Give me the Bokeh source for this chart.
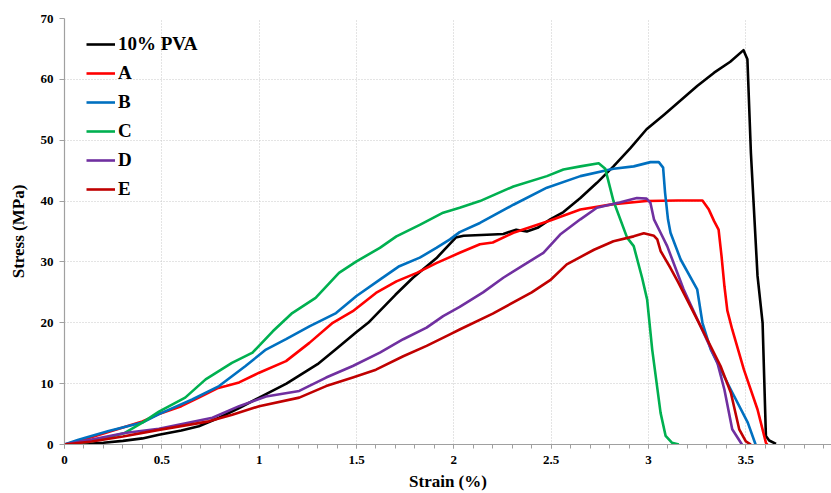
from bokeh.plotting import figure
from bokeh.models import Range1d, FixedTicker, Legend, LegendItem, NumeralTickFormatter
from bokeh.embed import file_html
from bokeh.resources import INLINE

# ---- data (strain %, stress MPa) ----
pva_strain = [0, 0.1, 0.2, 0.3, 0.4, 0.485, 0.6, 0.69, 0.794, 0.897, 1.0, 1.14, 1.3, 1.4, 1.5, 1.56, 1.7,
              1.79, 1.91, 2.01, 2.05, 2.2, 2.254, 2.32, 2.375, 2.43, 2.495, 2.563, 2.65, 2.735, 2.82, 2.907,
              2.99, 3.08, 3.25, 3.337, 3.42, 3.488, 3.508, 3.526, 3.56, 3.586, 3.603, 3.62, 3.655]
pva_stress = [0, 0.1, 0.3, 0.6, 1.0, 1.6, 2.3, 3.0, 4.4, 6.0, 7.7, 10.0, 13.2, 15.8, 18.5, 20.0, 24.6,
              27.4, 30.6, 34.0, 34.3, 34.5, 34.6, 35.3, 35.0, 35.6, 37.0, 38.2, 40.5, 43.0, 45.7, 48.7,
              51.8, 54.2, 58.9, 61.1, 62.9, 64.8, 63.3, 47.9, 27.7, 20.0, 1.4, 0.66, 0.1]

a_strain = [0, 0.1, 0.2, 0.3, 0.4, 0.485, 0.6, 0.69, 0.79, 0.83, 0.897, 1.0, 1.138, 1.258, 1.378, 1.481,
            1.6, 1.705, 1.81, 1.91, 2.03, 2.134, 2.2, 2.306, 2.495, 2.65, 2.82, 2.99, 3.15, 3.277, 3.31,
            3.337, 3.36, 3.375, 3.39, 3.405, 3.43, 3.49, 3.56, 3.603, 3.61]
a_stress = [0, 0.8, 1.8, 2.8, 3.8, 5.0, 6.3, 7.7, 9.3, 9.6, 10.2, 11.8, 13.7, 16.7, 20.0, 21.9,
            24.9, 26.8, 28.2, 29.8, 31.5, 32.9, 33.2, 34.8, 36.8, 38.6, 39.5, 40.0, 40.1, 40.1, 38.6,
            36.7, 35.3, 31.0, 26.0, 22.0, 18.9, 12.3, 5.75, 0.3, 0]

b_strain = [0, 0.072, 0.107, 0.227, 0.4, 0.485, 0.656, 0.794, 0.93, 1.035, 1.138, 1.258, 1.395, 1.5,
            1.62, 1.72, 1.825, 1.91, 1.98, 2.03, 2.134, 2.306, 2.478, 2.65, 2.82, 2.924, 3.01, 3.053,
            3.075, 3.085, 3.1, 3.113, 3.165, 3.25, 3.277, 3.32, 3.423, 3.51, 3.55]
b_stress = [0, 0.8, 1.1, 2.2, 3.6, 5.0, 7.4, 9.6, 12.9, 15.6, 17.3, 19.4, 21.6, 24.4,
            27.1, 29.3, 30.7, 32.3, 33.7, 34.9, 36.4, 39.4, 42.2, 44.1, 45.3, 45.7, 46.4, 46.4,
            45.5, 41.4, 37.0, 34.8, 30.4, 25.5, 20.0, 15.6, 9.0, 3.6, 0]

c_strain = [0, 0.14, 0.31, 0.4, 0.485, 0.62, 0.725, 0.86, 0.966, 1.07, 1.17, 1.29, 1.41, 1.5, 1.62,
            1.705, 1.825, 1.945, 2.03, 2.134, 2.306, 2.478, 2.563, 2.65, 2.744, 2.778, 2.82, 2.89,
            2.924, 2.967, 2.993, 3.019, 3.062, 3.088, 3.12, 3.156]
c_stress = [0, 0.5, 1.9, 3.6, 5.4, 7.7, 10.7, 13.4, 15.1, 18.6, 21.6, 24.1, 28.2, 30.1, 32.3,
            34.2, 36.1, 38.1, 38.9, 40.0, 42.4, 44.1, 45.2, 45.7, 46.2, 45.3, 40.0, 34.0,
            32.6, 27.4, 23.8, 15.6, 5.2, 1.4, 0.3, 0]

d_strain = [0, 0.14, 0.31, 0.485, 0.76, 0.897, 1.035, 1.206, 1.344, 1.481, 1.62, 1.74, 1.86, 1.945,
            2.03, 2.15, 2.254, 2.36, 2.46, 2.546, 2.65, 2.735, 2.856, 2.94, 2.99, 3.01, 3.028, 3.062,
            3.096, 3.18, 3.268, 3.354, 3.39, 3.43, 3.48]
d_stress = [0, 0.8, 1.9, 2.6, 4.4, 6.3, 7.9, 8.8, 11.0, 12.9, 15.1, 17.3, 19.2, 21.1,
            22.6, 25.0, 27.4, 29.5, 31.5, 34.5, 37.0, 38.9, 39.8, 40.5, 40.4, 39.7, 37.0, 34.8,
            32.6, 25.5, 19.4, 13.4, 9.0, 2.5, 0]

e_strain = [0, 0.14, 0.3, 0.485, 0.742, 0.862, 1.0, 1.206, 1.344, 1.481, 1.6, 1.74, 1.86, 1.98, 2.03,
            2.2, 2.4, 2.495, 2.58, 2.72, 2.82, 2.924, 2.976, 3.028, 3.045, 3.062, 3.113, 3.15, 3.268,
            3.37, 3.423, 3.466, 3.5, 3.526]
e_stress = [0, 0.5, 1.3, 2.4, 3.8, 4.9, 6.3, 7.7, 9.6, 11.0, 12.3, 14.5, 16.2, 18.1, 18.9,
            21.5, 25.0, 27.0, 29.6, 32.0, 33.4, 34.2, 34.7, 34.3, 33.7, 31.8, 29.0, 26.8, 19.4,
            12.9, 8.5, 2.5, 0.5, 0]

labels = ["10% PVA", "A", "B", "C", "D", "E"]
colors = ["#000000", "#FF0000", "#0070C0", "#00B050", "#7030A0", "#C00000"]
series = [(pva_strain, pva_stress), (a_strain, a_stress), (b_strain, b_stress),
          (c_strain, c_stress), (d_strain, d_stress), (e_strain, e_stress)]

x_major = [0, 0.5, 1, 1.5, 2, 2.5, 3, 3.5]
x_minor = [round(i * 0.1, 1) for i in range(0, 40)]
y_major = [0, 10, 20, 30, 40, 50, 60, 70]

FONT = "Liberation Serif"

p = figure(width=831, height=493, x_range=Range1d(0, 3.94), y_range=Range1d(0, 70),
           output_backend="svg", toolbar_location=None,
           min_border_left=64, min_border_top=18, min_border_right=0, min_border_bottom=47)
p.outline_line_color = None
p.background_fill_color = "white"

items = []
for (xs, ys), lab, col in zip(series, labels, colors):
    r = p.line(xs, ys, line_color=col, line_width=2.6, line_join="round")
    items.append(LegendItem(label=lab, renderers=[r]))

# axes
p.xaxis.ticker = FixedTicker(ticks=x_major, minor_ticks=x_minor)
p.yaxis.ticker = FixedTicker(ticks=y_major, minor_ticks=[])
p.xaxis.formatter = NumeralTickFormatter(format="0.[0]")
for ax in (p.xaxis, p.yaxis):
    ax.axis_line_color = "#a0a0a0"
    ax.axis_line_width = 1.2
    ax.major_tick_line_color = "#a0a0a0"
    ax.minor_tick_line_color = "#a0a0a0"
    ax.major_tick_in = 0
    ax.major_tick_out = 4
    ax.minor_tick_in = 0
    ax.minor_tick_out = 4
    ax.major_label_text_font = FONT
    ax.major_label_text_font_style = "bold"
    ax.major_label_text_font_size = "13px"
    ax.major_label_text_color = "#000000"
    ax.axis_label_text_font = FONT
    ax.axis_label_text_font_style = "bold"
    ax.axis_label_text_font_size = "17px"
    ax.axis_label_text_color = "#000000"
p.yaxis.major_tick_out = 5
p.xaxis.axis_label = "Strain (%)"
p.yaxis.axis_label = "Stress (MPa)"
p.xaxis.major_label_standoff = 7
p.yaxis.major_label_standoff = 6
p.xaxis.axis_label_standoff = 5
p.yaxis.axis_label_standoff = 10

# grid
p.xgrid.ticker = FixedTicker(ticks=x_major)
p.ygrid.ticker = FixedTicker(ticks=y_major)
for g in (p.xgrid, p.ygrid):
    g.grid_line_color = "#c8c8c8"
    g.grid_line_dash = "1 2"
    g.grid_line_width = 1

legend = Legend(items=items, location=(22, 244), margin=0, padding=0,
                border_line_color=None, background_fill_alpha=0,
                label_text_font=FONT, label_text_font_style="bold",
                label_text_font_size="19px", label_text_color="#000000",
                glyph_width=29, glyph_height=20, label_height=20, label_standoff=3,
                spacing=7)
p.add_layout(legend)

open("out.html", "w").write(file_html(p, INLINE))
